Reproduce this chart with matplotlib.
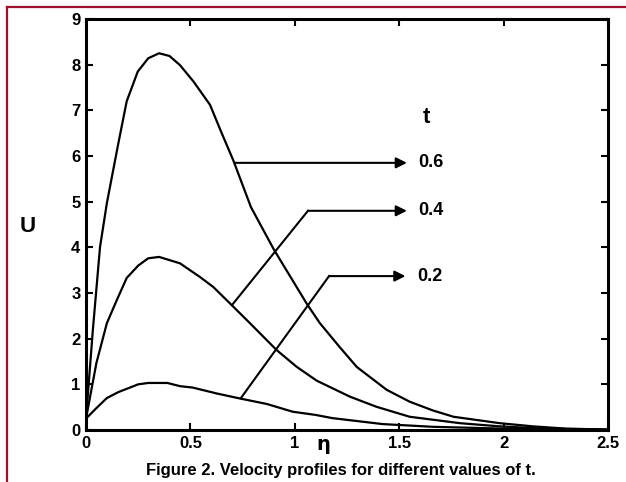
import matplotlib
matplotlib.use("Agg")
import matplotlib.pyplot as plt
from matplotlib.lines import Line2D

# ---- data ----
eta_06 = [0.0, 0.033, 0.067, 0.1, 0.155, 0.195, 0.248, 0.298, 0.35, 0.40, 0.45, 0.515, 0.594,
          0.65, 0.705, 0.79, 0.90, 1.058, 1.12, 1.216, 1.297, 1.44, 1.55, 1.66, 1.76, 1.87,
          1.98, 2.14, 2.3, 2.5]
u_06 = [0.25, 2.2, 4.0, 4.97, 6.28, 7.2, 7.85, 8.14, 8.25, 8.19, 7.99, 7.63, 7.12,
        6.50, 5.91, 4.88, 3.95, 2.76, 2.34, 1.81, 1.38, 0.88, 0.62, 0.43, 0.29, 0.22,
        0.15, 0.08, 0.03, 0.01]

eta_04 = [0.0, 0.05, 0.1, 0.148, 0.195, 0.25, 0.298, 0.35, 0.45, 0.546, 0.61, 0.69, 0.785,
          0.913, 1.01, 1.105, 1.264, 1.39, 1.55, 1.79, 1.98, 2.2, 2.5]
u_04 = [0.25, 1.47, 2.34, 2.85, 3.33, 3.6, 3.76, 3.79, 3.65, 3.35, 3.13, 2.77, 2.34,
        1.75, 1.38, 1.08, 0.73, 0.51, 0.29, 0.15, 0.08, 0.03, 0.01]

eta_02 = [0.0, 0.05, 0.1, 0.155, 0.25, 0.298, 0.39, 0.45, 0.51, 0.626, 0.737, 0.866, 0.99,
          1.1, 1.18, 1.42, 1.66, 2.0, 2.5]
u_02 = [0.25, 0.48, 0.7, 0.83, 1.0, 1.03, 1.03, 0.96, 0.93, 0.8, 0.69, 0.57, 0.4,
        0.33, 0.26, 0.13, 0.07, 0.03, 0.0]

series = [(eta_06, u_06), (eta_04, u_04), (eta_02, u_02)]
t_labels = ["0.6", "0.4", "0.2"]
x_ticks = [0, 0.5, 1, 1.5, 2, 2.5]
x_ticklabels = ["0", "0.5", "1", "1.5", "2", "2.5"]
y_ticks = list(range(10))

plt.rcParams['font.family'] = ['Liberation Sans', 'DejaVu Sans']
plt.rcParams['font.weight'] = 'bold'

fig = plt.figure(figsize=(6.26, 4.82), dpi=100)
ax = fig.add_axes([86/626, 1-430/482, (608-86)/626, (430-19)/482])

for x, y in series:
    ax.plot(x, y, color='black', lw=1.6)

ax.set_xlim(0, 2.5)
ax.set_ylim(0, 9)
ax.set_xticks(x_ticks)
ax.set_xticklabels(x_ticklabels)
ax.set_yticks(y_ticks)
ax.tick_params(direction='in', length=5, width=1.5, top=True, right=True,
               labelsize=12, pad=4)
for lab in ax.get_xticklabels() + ax.get_yticklabels():
    lab.set_fontweight('bold')
for s in ax.spines.values():
    s.set_linewidth(2.2)

# annotation leader lines
arrow_kw = dict(arrowstyle='-|>', color='black', lw=1.5, mutation_scale=16,
                shrinkA=0, shrinkB=0)
# 0.6
ax.annotate("", xy=(1.537, 5.85), xytext=(0.714, 5.85), arrowprops=arrow_kw)
ax.text(1.59, 5.85, t_labels[0], fontsize=13, fontweight='bold', va='center', ha='left')
# 0.4
ax.plot([0.70, 1.063], [2.74, 4.80], color='black', lw=1.5)
ax.annotate("", xy=(1.537, 4.80), xytext=(1.063, 4.80), arrowprops=arrow_kw)
ax.text(1.59, 4.80, t_labels[1], fontsize=13, fontweight='bold', va='center', ha='left')
# 0.2
ax.plot([0.742, 1.164], [0.70, 3.37], color='black', lw=1.5)
ax.annotate("", xy=(1.53, 3.37), xytext=(1.164, 3.37), arrowprops=arrow_kw)
ax.text(1.585, 3.37, t_labels[2], fontsize=13, fontweight='bold', va='center', ha='left')

ax.text(1.63, 6.85, "t", fontsize=16, fontweight='bold', va='center', ha='center')

# axis labels
fig.text(28/626, 1-227/482, "U", fontsize=16, fontweight='bold', ha='center', va='center')
fig.text(323/626, 1-445/482, "η", fontsize=14, fontweight='bold', ha='center', va='center',
         family=['DejaVu Sans'])

# caption
fig.text(341/626, 1-470/482, "Figure 2. Velocity profiles for different values of t.",
         fontsize=12, fontweight='bold', ha='center', va='center')

# frame (top and left lines)
col = '#a0102c'
fig.add_artist(Line2D([7/626, 7/626], [0, 1-7/482], transform=fig.transFigure, color=col, lw=1.6))
fig.add_artist(Line2D([7/626, 1], [1-7/482, 1-7/482], transform=fig.transFigure, color=col, lw=1.6))

fig.savefig("out.png", dpi=100)
